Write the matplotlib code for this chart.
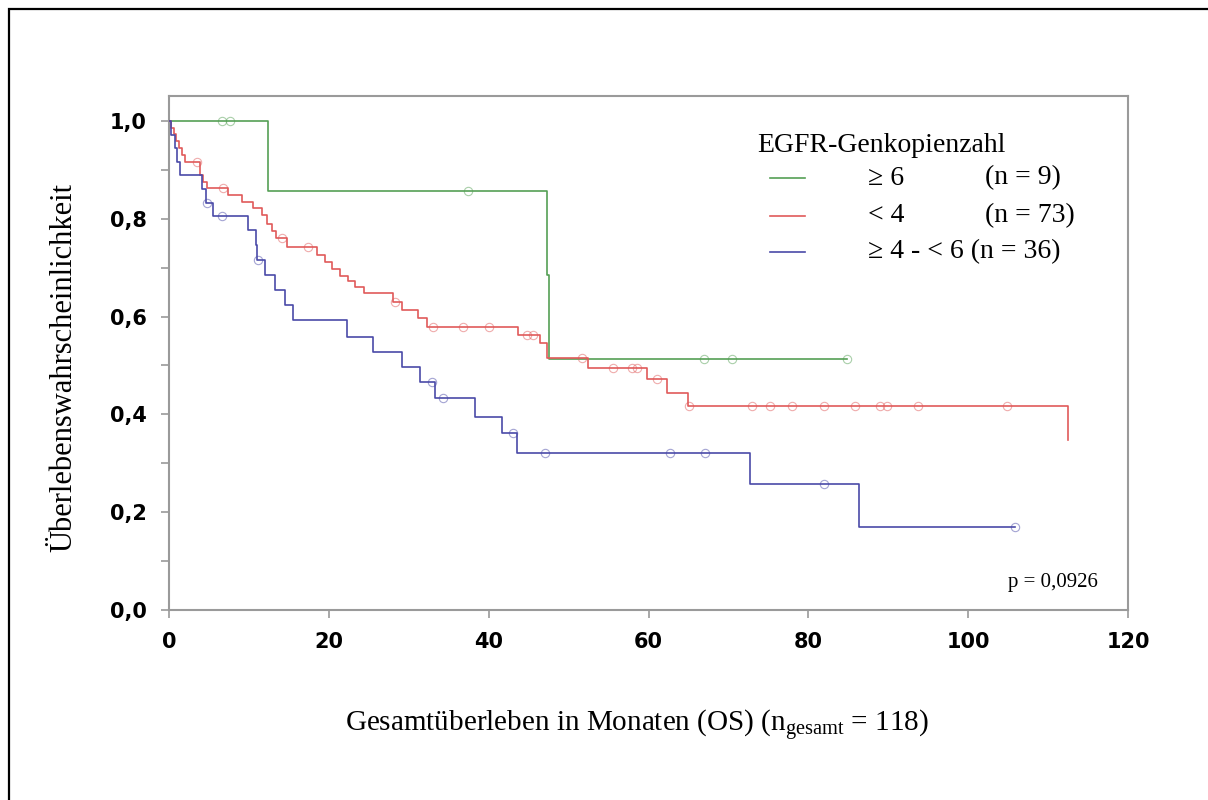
import numpy as np
import matplotlib
matplotlib.use("Agg")
import matplotlib.pyplot as plt
from matplotlib.lines import Line2D
from matplotlib.patches import Rectangle

plt.rcParams["mathtext.fontset"] = "custom"
plt.rcParams["mathtext.rm"] = "Liberation Serif"

# Kaplan-Meier steps: event times (months) and survival after each event
green_times = [12.4, 47.3, 47.6]
green_surv = [0.857, 0.686, 0.514]
green_cens = [6.6, 7.6, 37.4, 67.0, 70.5, 84.9]
green_end = 84.9

red_times = [0.3, 0.6, 0.9, 1.3, 1.6, 2.0, 3.9, 4.3, 4.8, 7.4, 9.1, 10.5, 11.6,
             12.3, 12.9, 13.4, 14.8, 18.5, 19.5, 20.4, 21.4, 22.4, 23.3, 24.4,
             28.0, 29.2, 31.2, 32.3, 43.7, 46.4, 47.3, 52.4, 59.8, 62.3, 65.0,
             112.5]
red_surv = [0.986, 0.973, 0.959, 0.945, 0.931, 0.917, 0.890, 0.876, 0.863,
            0.849, 0.835, 0.822, 0.808, 0.790, 0.775, 0.760, 0.742, 0.726,
            0.711, 0.697, 0.683, 0.672, 0.661, 0.648, 0.630, 0.613, 0.597,
            0.579, 0.562, 0.545, 0.515, 0.495, 0.472, 0.444, 0.417, 0.348]
red_cens = [3.5, 6.8, 14.1, 17.4, 28.3, 33.0, 36.8, 40.0, 44.8, 45.6, 51.7,
            55.6, 57.9, 58.6, 61.1, 65.1, 73.0, 75.2, 77.9, 81.9, 85.9, 89.0,
            89.9, 93.7, 104.9]
red_end = 112.5

blue_times = [0.3, 0.7, 1.0, 1.4, 4.1, 4.6, 5.5, 9.9, 10.9, 11.0, 12.0, 13.3,
              14.5, 15.5, 22.3, 25.5, 29.2, 31.4, 33.3, 38.3, 41.7, 43.5,
              72.7, 86.4]
blue_surv = [0.972, 0.944, 0.917, 0.889, 0.861, 0.833, 0.806, 0.776, 0.746,
             0.716, 0.686, 0.655, 0.624, 0.593, 0.559, 0.528, 0.497, 0.467,
             0.434, 0.395, 0.361, 0.321, 0.258, 0.170]
blue_cens = [4.7, 6.6, 11.1, 32.9, 34.3, 43.0, 47.1, 62.7, 67.1, 81.9, 105.9]
blue_end = 105.9

group_labels = ["\u2265 6", "< 4", "\u2265 4 - < 6"]
group_n = [9, 73, 36]
colors = ["#55a055", "#e05a5a", "#4a4aa8"]

series = [
    (green_times, green_surv, green_cens, green_end),
    (red_times, red_surv, red_cens, red_end),
    (blue_times, blue_surv, blue_cens, blue_end),
]

fig = plt.figure(figsize=(12.08, 8), dpi=100)
ax = fig.add_axes([169 / 1208, 190 / 800, 959 / 1208, 514 / 800])

for (times, surv, cens, end), color in zip(series, colors):
    x = np.concatenate([[0.0], times, [end]])
    y = np.concatenate([[1.0], surv, [surv[-1]]])
    ax.step(x, y, where="post", color=color, lw=1.2, zorder=3)
    cx = np.asarray(cens)
    idx = np.searchsorted(times, cx, side="right")
    cy = np.concatenate([[1.0], surv])[idx]
    ax.plot(cx, cy, ls="none", marker="o", ms=6, mfc="none",
            mec=color, mew=0.8, alpha=0.5, zorder=4)

ax.set_xlim(0, 120)
ax.set_ylim(0, 1.051)
ax.set_xticks(np.arange(0, 121, 20))
ax.set_yticks(np.arange(0, 1.01, 0.2))
ax.set_yticks(np.arange(0.1, 1.0, 0.2), minor=True)
ax.set_yticklabels([f"{v:.1f}".replace(".", ",") for v in np.arange(0, 1.01, 0.2)])
ax.tick_params(axis="both", which="both", direction="out", color="#9a9a9a",
               width=1.2, length=6, labelsize=15)
ax.tick_params(axis="x", pad=10)
ax.tick_params(axis="y", pad=10)
for lab in ax.get_xticklabels() + ax.get_yticklabels():
    lab.set_fontweight("bold")
for sp in ax.spines.values():
    sp.set_color("#9a9a9a")
    sp.set_linewidth(1.5)

serif = "Liberation Serif"
ax.set_xlabel(r"Gesamtüberleben in Monaten (OS) ($\mathrm{n_{gesamt}}$ = 118)",
              family=serif, fontsize=21)
ax.set_ylabel("Überlebenswahrscheinlichkeit", family=serif, fontsize=22)
ax.xaxis.set_label_coords((637 - 169) / 959, (610 - 708) / 514)
ax.yaxis.set_label_coords((78 - 169) / 959, (610 - 367) / 514)

# legend block drawn in axes coordinates
def ax_xy(px, py):
    return (px - 169) / 959, (610 - py) / 514

legend_size = 20
tx, ty = ax_xy(757, 145)
ax.text(tx, ty, "EGFR-Genkopienzahl", transform=ax.transAxes, family=serif,
        fontsize=legend_size, va="center", ha="left")
rows_py = [178, 216, 252]
for py, lab, n, color in zip(rows_py, group_labels, group_n, colors):
    x0, yy = ax_xy(770, py)
    x1, _ = ax_xy(805, py)
    ax.add_line(Line2D([x0, x1], [yy, yy], transform=ax.transAxes,
                       color=color, lw=1.2))
    lx, _ = ax_xy(868, py)
    if n == 36:
        ax.text(lx, yy, f"{lab} (n = {n})", transform=ax.transAxes,
                family=serif, fontsize=legend_size, va="center", ha="left")
    else:
        ax.text(lx, yy, lab, transform=ax.transAxes, family=serif,
                fontsize=legend_size, va="center", ha="left")
        nx, _ = ax_xy(985, py)
        ax.text(nx, yy, f"(n = {n})", transform=ax.transAxes, family=serif,
                fontsize=legend_size, va="center", ha="left")

px_, py_ = ax_xy(1098, 582)
ax.text(px_, py_, "p = 0,0926", transform=ax.transAxes, family=serif,
        fontsize=15, va="center", ha="right")

# outer frame
fig.patches.append(Rectangle((9 / 1208, -0.1), 2.0, (800 - 9) / 800 + 0.1,
                             transform=fig.transFigure, fill=False,
                             edgecolor="black", lw=1.6))

fig.savefig("out.png", dpi=100)
